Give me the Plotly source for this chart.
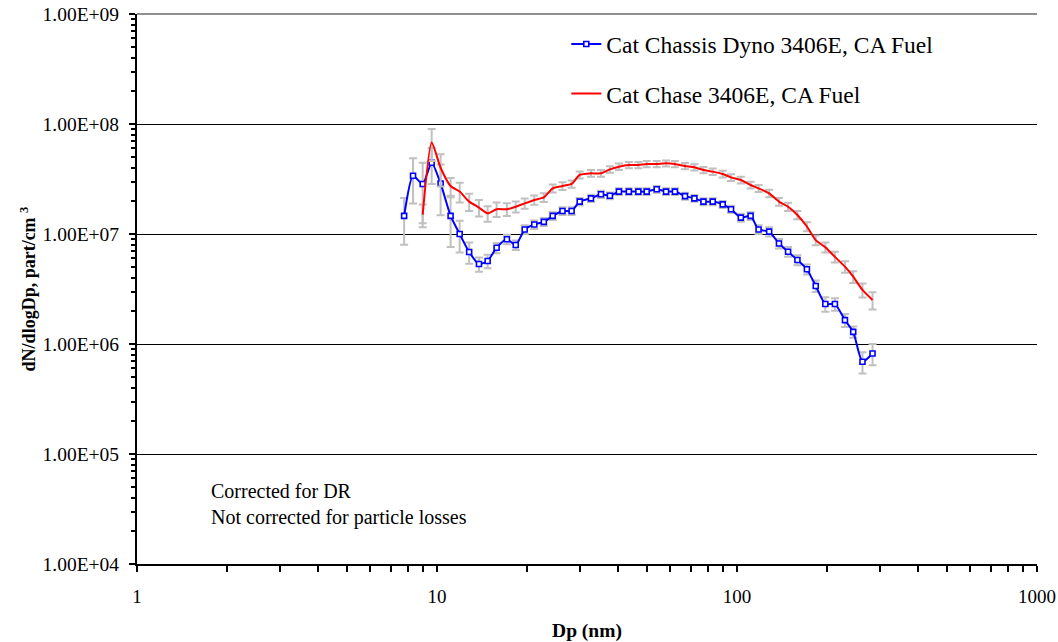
import plotly.graph_objects as go

# ---- data ----
dp_dyno = [7.77, 8.32, 8.96, 9.6, 10.28, 11.1, 11.9, 12.8, 13.8, 14.75, 15.8, 17.1, 18.3, 19.6,
           21.1, 22.7, 24.3, 26.2, 28.1, 29.9, 32.6, 35.2, 37.7, 40.4, 43.6, 46.9, 50.0, 54.0,
           58.0, 62.1, 67.1, 72.1, 77.3, 83.0, 89.6, 95.5, 103, 111, 118, 128, 138, 148, 159,
           171, 183, 197, 212, 229, 244, 262, 283]
n_dyno = [1.46e7, 3.39e7, 2.85e7, 4.45e7, 2.88e7, 1.46e7, 1.0e7, 6.86e6, 5.33e6, 5.69e6, 7.5e6,
          8.95e6, 7.94e6, 1.1e7, 1.22e7, 1.29e7, 1.46e7, 1.62e7, 1.62e7, 1.97e7, 2.11e7, 2.3e7,
          2.23e7, 2.43e7, 2.43e7, 2.43e7, 2.43e7, 2.55e7, 2.43e7, 2.43e7, 2.21e7, 2.11e7, 1.97e7,
          1.97e7, 1.86e7, 1.68e7, 1.41e7, 1.46e7, 1.1e7, 1.05e7, 8.2e6, 6.9e6, 5.8e6, 4.78e6,
          3.37e6, 2.31e6, 2.31e6, 1.65e6, 1.29e6, 6.9e5, 8.2e5]
err_dyno = [6.6e6, 1.5e7, 1.6e7, 1.6e7, 1.4e7, 7.0e6, 3.2e6, 1.5e6, 8.0e5, 8.0e5, 8.0e5,
            9.0e5, 8.0e5, 1.0e6, 1.1e6, 1.1e6, 1.2e6, 1.3e6, 1.3e6, 1.5e6, 1.6e6, 1.7e6,
            1.6e6, 1.7e6, 1.7e6, 1.7e6, 1.7e6, 1.8e6, 1.7e6, 1.7e6, 1.6e6, 1.5e6, 1.4e6,
            1.4e6, 1.4e6, 1.3e6, 1.2e6, 1.2e6, 1.0e6, 1.0e6, 8.0e5, 7.0e5, 6.0e5, 5.0e5,
            4.0e5, 3.5e5, 3.0e5, 2.2e5, 1.5e5, 1.5e5, 1.8e5]

dp_chase = [8.96, 9.6, 10.28, 11.1, 11.9, 12.8, 13.8, 14.75, 15.8, 17.1, 18.3, 19.6,
            21.1, 22.7, 24.3, 26.2, 28.1, 29.9, 32.6, 35.2, 37.7, 40.4, 43.6, 46.9, 50.0, 54.0,
            58.0, 62.1, 67.1, 72.1, 77.3, 83.0, 89.6, 95.5, 103, 111, 118, 128, 138, 148, 159,
            171, 183, 197, 212, 229, 244, 262, 283]
n_chase = [1.5e7, 6.8e7, 4.0e7, 2.73e7, 2.43e7, 1.97e7, 1.74e7, 1.54e7, 1.68e7, 1.68e7, 1.77e7,
           1.9e7, 2.04e7, 2.15e7, 2.6e7, 2.73e7, 2.85e7, 3.45e7, 3.56e7, 3.56e7, 3.87e7, 4.09e7,
           4.24e7, 4.24e7, 4.33e7, 4.33e7, 4.39e7, 4.33e7, 4.15e7, 4.04e7, 3.82e7, 3.69e7, 3.51e7,
           3.27e7, 3.1e7, 2.79e7, 2.6e7, 2.34e7, 1.97e7, 1.77e7, 1.49e7, 1.17e7, 8.8e6, 7.58e6,
           6.2e6, 5.05e6, 4.09e6, 3.1e6, 2.51e6]
err_chase = [3.5e6, 2.2e7, 1.3e7, 5.0e6, 5.0e6, 3.5e6, 3.0e6, 2.5e6, 2.5e6, 2.2e6, 2.0e6,
             2.0e6, 2.0e6, 2.0e6, 2.2e6, 2.2e6, 2.2e6, 2.5e6, 2.5e6, 2.5e6, 2.7e6, 2.8e6,
             2.8e6, 2.8e6, 2.8e6, 2.8e6, 2.8e6, 2.8e6, 2.7e6, 2.6e6, 2.5e6, 2.5e6, 2.4e6,
             2.3e6, 2.2e6, 2.0e6, 1.9e6, 1.8e6, 1.6e6, 1.5e6, 1.3e6, 1.1e6, 9.0e5, 8.0e5,
             7.0e5, 6.0e5, 5.0e5, 4.5e5, 4.5e5]

y_tickvals = [1e4, 1e5, 1e6, 1e7, 1e8, 1e9]
y_ticktext = ["1.00E+04", "1.00E+05", "1.00E+06", "1.00E+07", "1.00E+08", "1.00E+09"]
x_tickvals = [1, 10, 100, 1000]
x_ticktext = ["1", "10", "100", "1000"]

FONT = "Liberation Serif, Times New Roman, serif"
GRAY = "#c0c0c0"

fig = go.Figure()

fig.add_trace(go.Scatter(
    x=dp_dyno, y=n_dyno, name="Cat Chassis Dyno 3406E, CA Fuel",
    mode="lines+markers", legendgroup="a",
    line=dict(color="#0000ff", width=2, shape="spline", smoothing=0.6),
    marker=dict(symbol="square", size=5, color="white", line=dict(color="#0000ff", width=1.6)),
    error_y=dict(type="data", array=err_dyno, visible=True, color=GRAY, thickness=2, width=4),
))
fig.add_trace(go.Scatter(
    x=dp_chase, y=n_chase, name="Cat Chase 3406E, CA Fuel",
    mode="lines", legendgroup="b",
    line=dict(color="#ff0000", width=2, shape="spline", smoothing=0.6),
    error_y=dict(type="data", array=err_chase, visible=True, color=GRAY, thickness=2, width=4),
))

minor_x = [m * d for d in (1, 10, 100) for m in range(2, 10)]
minor_y = [m * d for d in (1e4, 1e5, 1e6, 1e7, 1e8) for m in range(2, 10)]

fig.update_layout(
    width=1058, height=642,
    margin=dict(l=137, r=21, t=14, b=78, autoexpand=False),
    paper_bgcolor="white", plot_bgcolor="white",
    font=dict(family=FONT, size=19, color="black"),
    showlegend=True,
    legend=dict(x=0.477, y=0.985, xanchor="left", yanchor="top",
                font=dict(family=FONT, size=23.5, color="black"),
                traceorder="grouped", tracegroupgap=16, bgcolor="rgba(0,0,0,0)"),
    xaxis=dict(
        type="log", range=[0, 3], tickmode="array", tickvals=x_tickvals, ticktext=x_ticktext,
        ticks="outside", ticklen=6, tickwidth=2, tickcolor="black",
        showline=True, linecolor="black", linewidth=2, showgrid=False, zeroline=False,
        minor=dict(tickmode="array", tickvals=minor_x, ticks="outside", ticklen=6,
                   tickwidth=2, tickcolor="black", showgrid=False),
        ticklabelstandoff=8, automargin=False, ticklabeloverflow="allow",
        tickfont=dict(family=FONT, size=19),
        title=dict(text="<b>Dp (nm)</b>", font=dict(family=FONT, size=19.5), standoff=19),
    ),
    yaxis=dict(
        type="log", range=[4, 9], tickmode="array", tickvals=y_tickvals, ticktext=y_ticktext,
        ticks="outside", ticklen=6, tickwidth=2, tickcolor="black",
        showline=True, linecolor="black", linewidth=2,
        showgrid=True, gridcolor="black", gridwidth=1, zeroline=False,
        minor=dict(tickmode="array", tickvals=minor_y, ticks="outside", ticklen=4,
                   tickwidth=2, tickcolor="black", showgrid=False),
        ticklabelstandoff=6, automargin=False, ticklabeloverflow="allow",
        tickfont=dict(family=FONT, size=19.5),
        title=dict(text="<b>dN/dlogDp, part/cm <sup>3</sup></b>", font=dict(family=FONT, size=18),
                   standoff=2),
    ),
    shapes=[dict(type="line", xref="paper", yref="paper", x0=0, x1=1, y0=1, y1=1,
                 line=dict(color="#909090", width=2), layer="above")],
    annotations=[dict(
        text="Corrected for DR<br>Not corrected for particle losses",
        xref="paper", yref="paper", x=0.08, y=0.157, xanchor="left", yanchor="top",
        align="left", showarrow=False, font=dict(family=FONT, size=20, color="black"),
    )],
)

# remove the default 8px page margin so the figure fills the window exactly
fig.write_html("out.html", config={"displayModeBar": False},
               post_script="document.body.style.margin='0';")
